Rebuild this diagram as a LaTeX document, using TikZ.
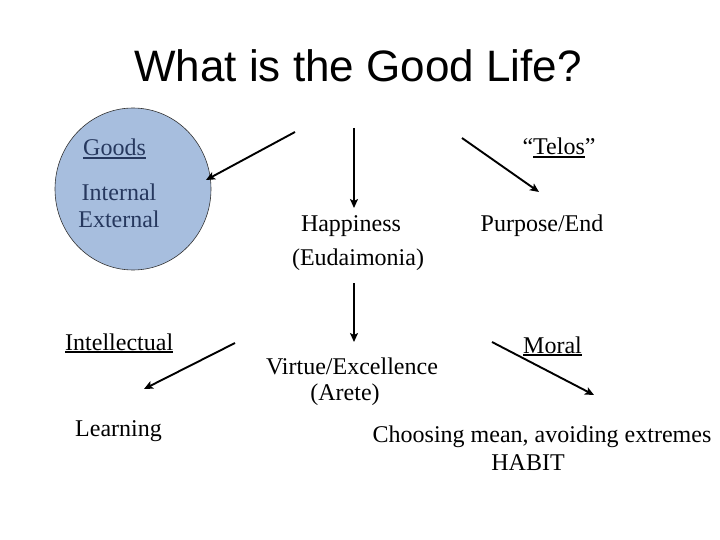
\documentclass[tikz,border=0pt]{standalone}
\usepackage{fontspec}
\setmainfont{Liberation Serif}
\newfontfamily\titlefont{Liberation Sans}
\usetikzlibrary{arrows.meta,shapes.geometric}
\definecolor{circfill}{RGB}{167,190,222}
\definecolor{navytext}{RGB}{38,56,94}
\newcommand{\myul}[2][1.5pt]{\setbox0\hbox{#2}\rlap{\rule[-3pt]{\wd0}{#1}}\box0}
\begin{document}
\begin{tikzpicture}[x=1pt,y=-1pt,
  lbl/.style={inner sep=0pt,font=\fontsize{24}{28}\selectfont},
  arr/.style={line width=1.9pt,-{Stealth[length=9pt,width=8pt,inset=2pt]}}]
\useasboundingbox (0,0) rectangle (720,540);
% title
\node[inner sep=0pt,anchor=base,font=\titlefont\fontsize{44}{50}\selectfont] (title) at (358,82) {What is the Good Life?};
% circle
\node[ellipse,draw=black!80,line width=0.6pt,fill=circfill,minimum width=156pt,minimum height=162pt,inner sep=0pt] (goods) at (133,189) {};
\node[lbl,anchor=base west,text=navytext] (goodst) at (83,156) {\myul{Goods}};
\node[lbl,anchor=base,text=navytext] (internal) at (119,201) {Internal};
\node[lbl,anchor=base,text=navytext] (external) at (119,228) {External};
% top arrows
\coordinate (a1s) at (295,132);
\coordinate (a1e) at (206,180);
\draw[arr] (a1s) -- (a1e);
\coordinate (a2s) at (354,128);
\coordinate (a2e) at (354,208);
\draw[arr] (a2s) -- (a2e);
\coordinate (a3s) at (462,138);
\coordinate (a3e) at (539,192);
\draw[arr] (a3s) -- (a3e);
\node[lbl,anchor=base] (telos) at (559,155) {``\myul{Telos}''};
\node[lbl,anchor=base] (happy) at (351,232) {Happiness};
\node[lbl,anchor=base] (eud) at (358,265) {(Eudaimonia)};
\node[lbl,anchor=base] (purpose) at (542,231) {Purpose/End};
% middle arrow
\coordinate (a4s) at (354,283);
\coordinate (a4e) at (354,342);
\draw[arr] (a4s) -- (a4e);
\node[lbl,anchor=base] (virtue) at (352,374) {Virtue/Excellence};
\node[lbl,anchor=base] (arete) at (345,400) {(Arete)};
% intellectual
\node[lbl,anchor=base west] (intel) at (65,350) {\myul[2pt]{Intellectual}};
\coordinate (a5s) at (235,343);
\coordinate (a5e) at (144,389);
\draw[arr] (a5s) -- (a5e);
\node[lbl,anchor=base west] (learn) at (75,436) {Learning};
% moral
\node[lbl,anchor=base west] (moral) at (523,353) {\myul[2.5pt]{Moral}};
\coordinate (a6s) at (492,342);
\coordinate (a6e) at (594,395);
\draw[arr] (a6s) -- (a6e);
\node[lbl,anchor=base] (choose) at (542,442) {Choosing mean, avoiding extremes};
\node[lbl,anchor=base] (habit) at (528,470) {HABIT};
\end{tikzpicture}
\end{document}
